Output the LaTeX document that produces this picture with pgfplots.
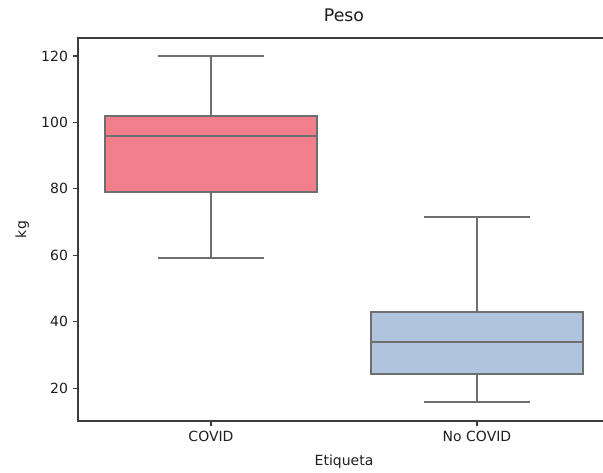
\documentclass[border=0pt]{standalone}
\usepackage{pgfplots}
\pgfplotsset{compat=1.18}
\usepackage{fontspec}
\setmainfont{DejaVu Sans}
\definecolor{pinkc}{RGB}{242,128,140}
\definecolor{bluec}{RGB}{176,196,222}
\definecolor{linec}{RGB}{110,110,110}
\definecolor{spinec}{RGB}{60,60,60}
\definecolor{textc}{RGB}{30,30,30}
\begin{document}
\begin{tikzpicture}
\begin{axis}[
  at={(58.5pt,38.25pt)}, anchor=south west,
  scale only axis, width=399pt, height=287.25pt,
  xmin=-0.5, xmax=1.5, ymin=10.1, ymax=125.4,
  xtick={0,1}, xticklabels={COVID, No COVID},
  ytick={20,40,60,80,100,120},
  xtick pos=left, ytick pos=left, tick align=outside,
  major tick length=4pt,
  axis line style={spinec, line width=1.1pt},
  tick style={spinec, line width=0.9pt},
  /pgf/number format/assume math mode=true,
  ticklabel style={font=\fontsize{10.5}{12}\selectfont, text=textc},
  title={Peso}, title style={font=\fontsize{13}{15}\selectfont, text=textc, at={(axis description cs:0.5,1.022)}, anchor=base},
  xlabel={Etiqueta}, xlabel style={font=\fontsize{10.5}{12}\selectfont, text=textc, at={(axis description cs:0.5,-0.107)}, anchor=center},
  ylabel={kg}, ylabel style={font=\fontsize{10.5}{12}\selectfont, text=textc, at={(axis description cs:-0.105,0.5)}, anchor=center},
  bx/.style={draw=linec, line width=1.5pt, mark=none, solid},
  unbounded coords=jump,
]
% COVID: whiskers 59.2 / 120, quartiles 79 / 102, median 96
\addplot[bx] coordinates {(0,102) (0,120) (nan,nan) (-0.2,120) (0.2,120) (nan,nan) (0,79) (0,59.2) (nan,nan) (-0.2,59.2) (0.2,59.2)};
\addplot[bx, fill=pinkc] coordinates {(-0.4,79) (0.4,79) (0.4,102) (-0.4,102)} -- cycle;
\addplot[bx] coordinates {(-0.4,96) (0.4,96)};
% No COVID: whiskers 15.7 / 71.6, quartiles 24.2 / 43.0, median 33.8
\addplot[bx] coordinates {(1,43.0) (1,71.6) (nan,nan) (0.8,71.6) (1.2,71.6) (nan,nan) (1,24.2) (1,15.7) (nan,nan) (0.8,15.7) (1.2,15.7)};
\addplot[bx, fill=bluec] coordinates {(0.6,24.2) (1.4,24.2) (1.4,43.0) (0.6,43.0)} -- cycle;
\addplot[bx] coordinates {(0.6,33.8) (1.4,33.8)};
\end{axis}
\pgfresetboundingbox
\path (0pt,0pt) rectangle (452.25pt,354pt);
\end{tikzpicture}
\end{document}
